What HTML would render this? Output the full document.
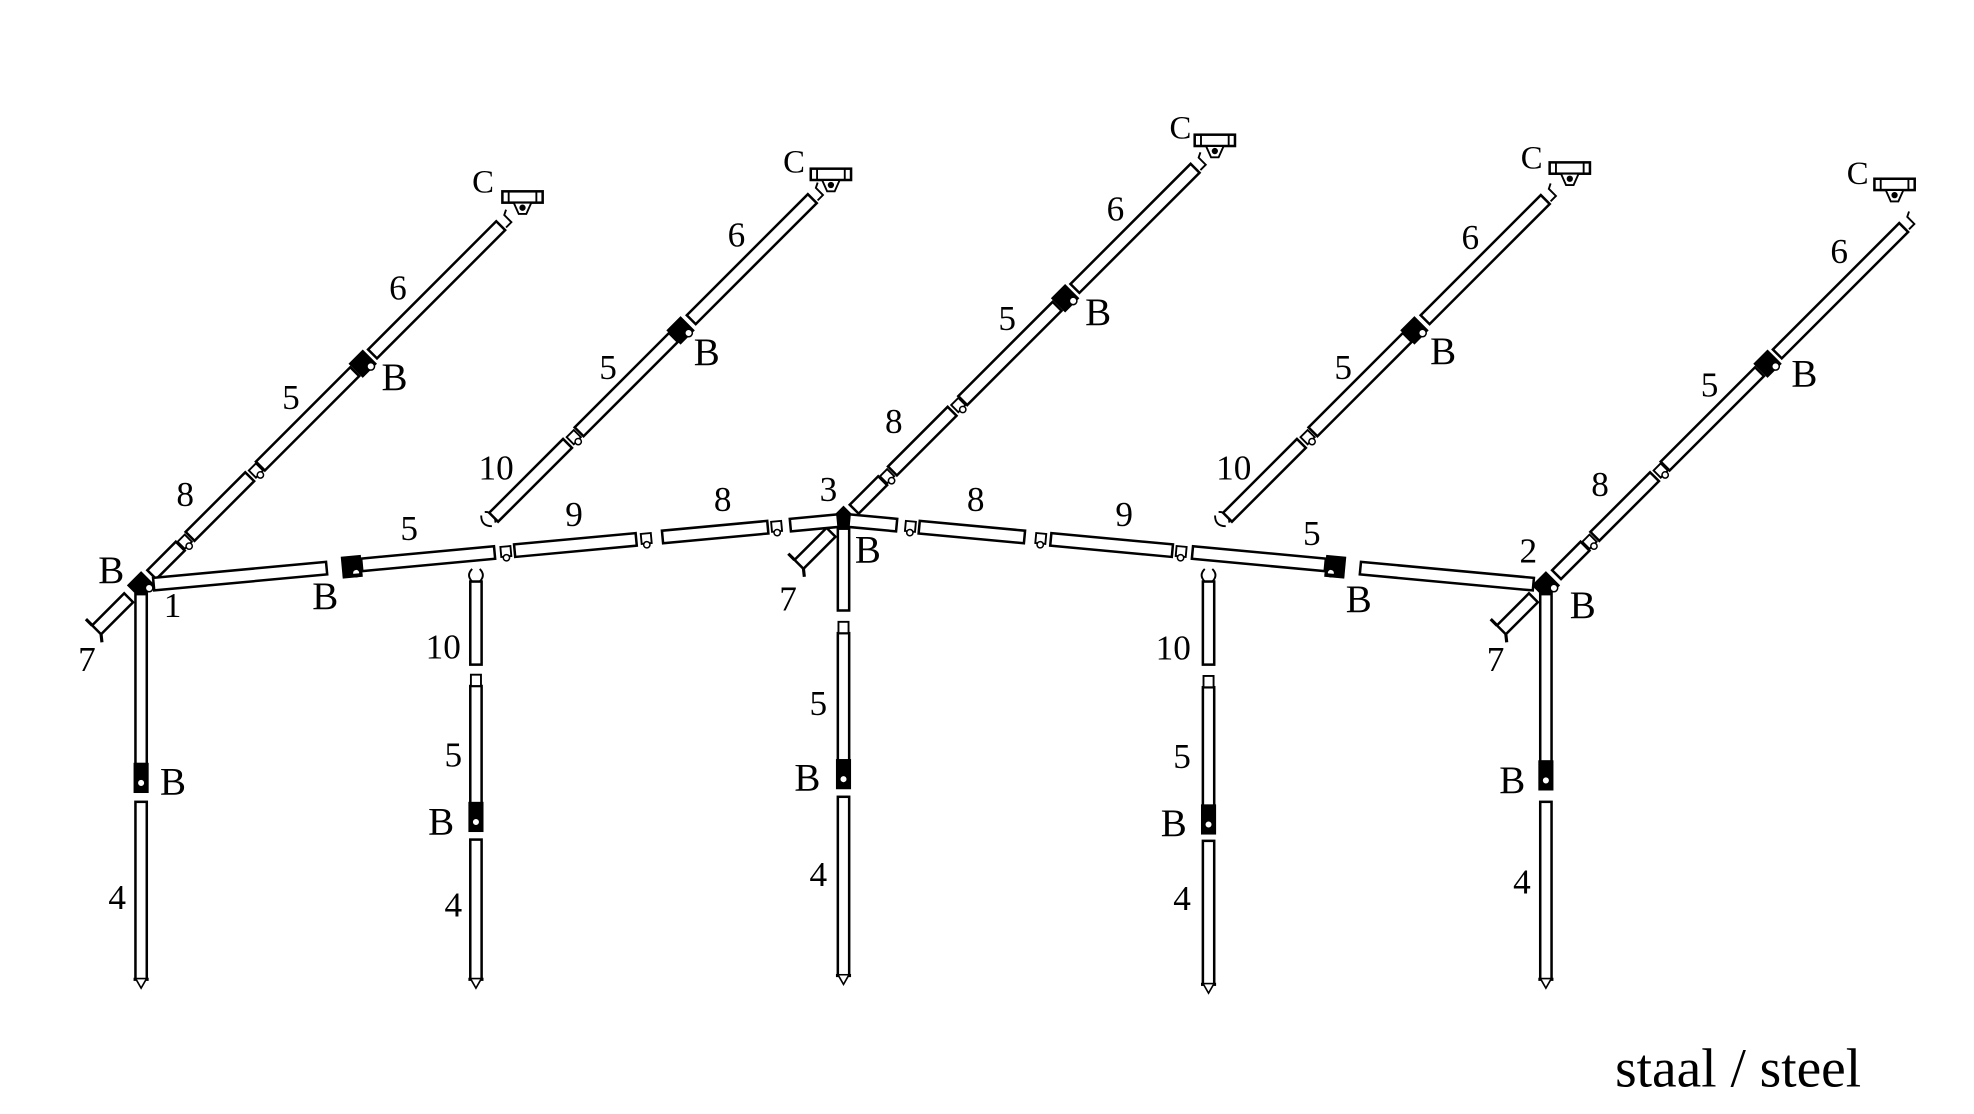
<!DOCTYPE html>
<html><head><meta charset="utf-8"><style>
html,body{margin:0;padding:0;background:#fff}
svg{display:block}
text{font-family:"Liberation Serif",serif;fill:#000}
</style></head><body>
<svg width="1974" height="1114" viewBox="0 0 1568 885" xmlns="http://www.w3.org/2000/svg">
<defs>
<g id="joint"><rect x="-4" y="-4" width="8" height="8" fill="#fff" stroke="#000" stroke-width="1.5"/><circle cx="0" cy="5" r="2.5" fill="#fff" stroke="#000" stroke-width="1.2"/></g>
<g id="blk"><rect x="-7" y="-7" width="14" height="14" fill="#000"/><circle cx="3" cy="6" r="3" fill="#fff" stroke="#000" stroke-width="1.2"/></g>
<g id="cbr"><rect x="-16" y="-6" width="32" height="9" fill="#fff" stroke="#000" stroke-width="2"/><line x1="-11" y1="-6" x2="-11" y2="3" stroke="#000" stroke-width="1.5"/><line x1="11" y1="-6" x2="11" y2="3" stroke="#000" stroke-width="1.5"/><path d="M-7 3 L7 3 L3 12 L-3 12 Z" fill="#fff" stroke="#000" stroke-width="1.5"/><circle cx="0" cy="7" r="1.5" fill="#000"/></g>
</defs>
<g stroke="#000" stroke-width="2" fill="#fff" id="draw"></g>
<g font-size="28">
<text x="140" y="402">8</text><text x="224" y="325">5</text><text x="303" y="310" font-size="31">B</text><text x="309" y="238">6</text><text x="375" y="153" font-size="26">C</text>
<text x="380" y="381">10</text><text x="476" y="301">5</text><text x="551" y="290" font-size="31">B</text><text x="578" y="196">6</text><text x="622" y="137" font-size="26">C</text>
<text x="703" y="344">8</text><text x="793" y="262">5</text><text x="862" y="258" font-size="31">B</text><text x="879" y="175">6</text><text x="929" y="110" font-size="26">C</text>
<text x="966" y="381">10</text><text x="1060" y="301">5</text><text x="1136" y="289" font-size="31">B</text><text x="1161" y="198">6</text><text x="1208" y="134" font-size="26">C</text>
<text x="1264" y="394">8</text><text x="1351" y="315">5</text><text x="1423" y="307" font-size="31">B</text><text x="1454" y="209">6</text><text x="1467" y="146" font-size="26">C</text>
<text x="78" y="463" font-size="31">B</text><text x="130" y="490">1</text><text x="62" y="533">7</text><text x="248" y="484" font-size="31">B</text>
<text x="318" y="429">5</text><text x="449" y="418">9</text><text x="567" y="406">8</text><text x="651" y="398">3</text><text x="679" y="447" font-size="31">B</text><text x="619" y="485">7</text>
<text x="768" y="406">8</text><text x="886" y="418">9</text><text x="1035" y="433">5</text><text x="1069" y="486" font-size="31">B</text>
<text x="1207" y="447">2</text><text x="1247" y="491" font-size="31">B</text><text x="1181" y="533">7</text>
<text x="127" y="631" font-size="31">B</text><text x="86" y="722">4</text>
<text x="338" y="523">10</text><text x="353" y="609">5</text><text x="340" y="663" font-size="31">B</text><text x="353" y="728">4</text>
<text x="643" y="568">5</text><text x="631" y="628" font-size="31">B</text><text x="643" y="704">4</text>
<text x="918" y="524">10</text><text x="932" y="610">5</text><text x="922" y="664" font-size="31">B</text><text x="932" y="723">4</text>
<text x="1191" y="630" font-size="31">B</text><text x="1202" y="710">4</text>
<text x="1283" y="863" font-size="44">staal / steel</text>
</g>
<script>
var NS="http://www.w3.org/2000/svg",D=document.getElementById("draw");
function el(n,a,p){var e=document.createElementNS(NS,n);for(var k in a)e.setAttribute(k,a[k]);(p||D).appendChild(e);return e;}
function grp(t){return el("g",{transform:t});}
function tube(g,a,b){el("rect",{x:a,y:-5,width:b-a,height:10},g);}
function use(g,id,x,y,rot){el("use",{href:"#"+id,transform:"translate("+x+","+y+")"+(rot?" rotate("+rot+")":"")},g);}
function hook(g,x){el("path",{d:"M"+x+" 4 L"+(x+6)+" 4 L"+(x+6)+" -4 L"+(x+10)+" -6",fill:"none","stroke-width":"1.5"},g);}
function rafterCorner(cx,cy,ext,L){var g=grp("translate("+cx+","+cy+") rotate(-45)");
 tube(g,-50,-14);el("path",{d:"M-50 -5 L-50 -12 M-50 5 L-54 10",fill:"none","stroke-width":"2.5"},g);
 use(g,"blk",0,0);tube(g,12,44);use(g,"joint",49,0);tube(g,55,122);use(g,"joint",129,0);tube(g,134,240);use(g,"blk",249,0);tube(g,260,L-10);hook(g,L-8);}
function rafterMid(cx,cy,L){var g=grp("translate("+cx+","+cy+") rotate(-45)");
 el("path",{d:"M4 -8 Q-2 -2 4 4 M8 -8 Q14 -2 8 4",fill:"none","stroke-width":"1.5"},g);
 tube(g,10,93);use(g,"joint",100,0);tube(g,106,212);use(g,"blk",220,0);tube(g,232,L-10);hook(g,L-8);}
rafterCorner(112,465,0,414);rafterMid(385,418,378);rafterCorner(670,413,0,405);rafterMid(968,418,377);rafterCorner(1228,465,0,412);
[[415,158],[660,140],[965,113],[1247,135],[1505,148]].forEach(function(p){use(D,"cbr",p[0],p[1]);});
function eave(t){var g=grp(t);tube(g,10,148);use(g,"blk",168,0);el("path",{d:"M160 8 L176 8",fill:"none","stroke-width":"3"},g);tube(g,176,282);use(g,"joint",291,0);tube(g,298,395);use(g,"joint",403,0);tube(g,416,500);use(g,"joint",507,0);tube(g,518,556);}
eave("translate(112,465) rotate(-5.3)");eave("translate(1228,465) scale(-1,1) rotate(-5.3)");
function leg(x,segs,blocks,forks,tip){segs.forEach(function(s){el("rect",{x:x-4.5,y:s[0],width:9,height:s[1]-s[0]});});
 blocks.forEach(function(b){el("rect",{x:x-5,y:b,width:10,height:22,fill:"#000"});el("circle",{cx:x,cy:b+15,r:3,fill:"#fff","stroke-width":"1.2"});});
 forks.forEach(function(f){el("path",{d:"M"+(x-3)+" "+f+" Q"+(x-8)+" "+(f+5)+" "+(x-3)+" "+(f+10)+" M"+(x+3)+" "+f+" Q"+(x+8)+" "+(f+5)+" "+(x+3)+" "+(f+10),fill:"none","stroke-width":"1.5"});});
 el("line",{x1:x-6,y1:tip,x2:x+6,y2:tip,"stroke-width":"2.5"});el("path",{d:"M"+(x-4)+" "+tip+" L"+x+" "+(tip+7)+" L"+(x+4)+" "+tip,"stroke-width":"1.3"});}
leg(112,[[472,607],[637,778]],[607],[],778);
leg(378,[[462,528],[545,640],[667,778]],[638],[452],778);
el("rect",{x:374,y:536,width:8,height:9,"stroke-width":"1.5"});
leg(670,[[420,485],[503,605],[633,775]],[604],[],775);
el("rect",{x:666,y:494,width:8,height:9,"stroke-width":"1.5"});
leg(960,[[462,528],[546,642],[668,782]],[640],[452],782);
el("rect",{x:956,y:537,width:8,height:9,"stroke-width":"1.5"});
leg(1228,[[472,605],[637,778]],[605],[],778);
</script>
</svg>
</body></html>
